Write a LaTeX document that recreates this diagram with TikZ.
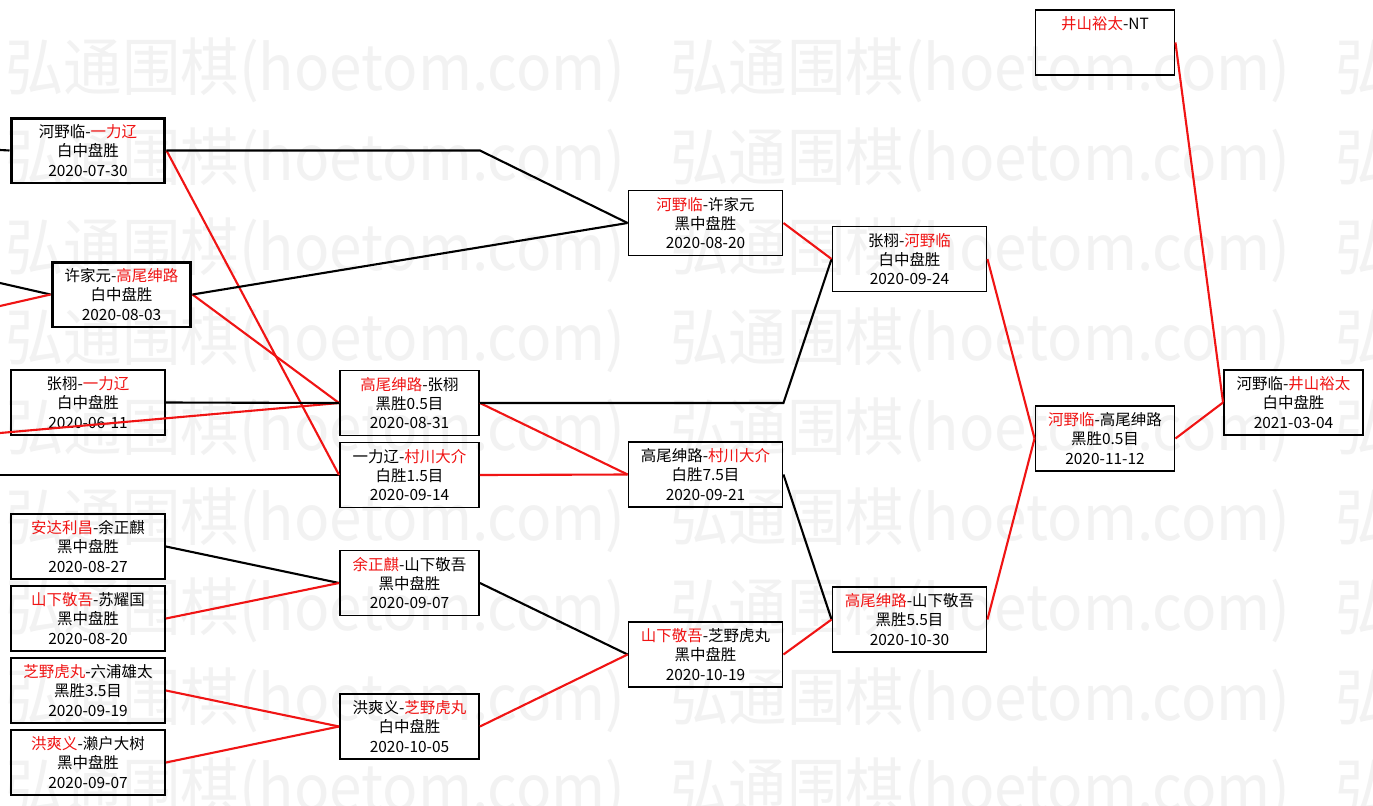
\documentclass[tikz,border=0pt]{standalone}
\usepackage{fontspec}
\usepackage{graphicx}
\newfontfamily\cjk{Noto Sans CJK SC}
\definecolor{red}{HTML}{F01414}
\definecolor{ink}{HTML}{000000}
\definecolor{wm}{HTML}{F2F2F2}
\newcommand\winr[1]{\textcolor{red}{#1}}

\begin{document}
\begin{tikzpicture}[x=0.02cm,y=-0.02cm,
game/.style={draw=ink,line width=1.1pt,minimum width=3.08cm,minimum height=1.3cm,inner sep=0pt,align=center,font=\cjk\fontsize{8.8}{11}\selectfont},
narrow/.style={minimum width=2.78cm},
bold/.style={line width=1.7pt},
loss/.style={draw=ink,line width=1.2pt},
win/.style={draw=red,line width=1.2pt},
wmtext/.style={text=wm,inner sep=0pt,anchor=west,font=\cjk\fontsize{35.7}{40}\selectfont}]
 \fill[white] (0,0) rectangle (1373,805);
 \useasboundingbox (0,0) rectangle (1373,805);
 % watermark
 \begin{scope}
 \clip (0,0) rectangle (1373,805);
 \foreach \r in {0,...,8}
  \foreach \c in {0,1,2}
   \node[wmtext] (wm-\r-\c) at (5+665*\c,70+90*\r) {\resizebox{12.4cm}{\height}{弘通围棋(hoetom.com)}};
 \end{scope}
 % first column
 \node[game,bold] (a1) at (88,150.5) {河野临-\winr{一力辽}\\白中盘胜\\2020-07-30};
 \node[game,narrow,bold] (a2) at (121.5,294.5) {许家元-\winr{高尾绅路}\\白中盘胜\\2020-08-03};
 \node[game] (a3) at (88,402.5) {张栩-\winr{一力辽}\\白中盘胜\\2020-06-11};
 \node[game] (a4) at (88,546.5) {\winr{安达利昌}-余正麒\\黑中盘胜\\2020-08-27};
 \node[game] (a5) at (88,618.5) {\winr{山下敬吾}-苏耀国\\黑中盘胜\\2020-08-20};
 \node[game] (a6) at (88,690.5) {\winr{芝野虎丸}-六浦雄太\\黑胜3.5目\\2020-09-19};
 \node[game] (a7) at (88,762.5) {\winr{洪爽义}-濑户大树\\黑中盘胜\\2020-09-07};
 % second column
 \node[game,narrow] (b1) at (409.5,403) {\winr{高尾绅路}-张栩\\黑胜0.5目\\2020-08-31};
 \node[game,narrow] (b2) at (409.5,475) {一力辽-\winr{村川大介}\\白胜1.5目\\2020-09-14};
 \node[game,narrow] (b3) at (409.5,583) {\winr{余正麒}-山下敬吾\\黑中盘胜\\2020-09-07};
 \node[game,narrow] (b4) at (409.5,726.5) {洪爽义-\winr{芝野虎丸}\\白中盘胜\\2020-10-05};
 % third column
 \node[game] (c1) at (705.5,223) {\winr{河野临}-许家元\\黑中盘胜\\2020-08-20};
 \node[game] (c2) at (705.5,474.5) {高尾绅路-\winr{村川大介}\\白胜7.5目\\2020-09-21};
 \node[game] (c3) at (705.5,654.5) {\winr{山下敬吾}-芝野虎丸\\黑中盘胜\\2020-10-19};
 % fourth column
 \node[game] (d1) at (909.5,259) {张栩-\winr{河野临}\\白中盘胜\\2020-09-24};
 \node[game] (d2) at (909.5,619.5) {\winr{高尾绅路}-山下敬吾\\黑胜5.5目\\2020-10-30};
 % last rounds
 \node[game,narrow] (seed) at (1105,42.5) {\winr{井山裕太}-NT\\\mbox{}\\\mbox{}};
 \node[game,narrow] (semi) at (1105,438.5) {\winr{河野临}-高尾绅路\\黑胜0.5目\\2020-11-12};
 \node[game,narrow] (final) at (1293.5,402.5) {河野临-\winr{井山裕太}\\白中盘胜\\2021-03-04};
 % lines from off the page
 \coordinate (in-a1) at (0,150);
 \coordinate (in-a2k) at (0,283);
 \coordinate (in-a2r) at (0,306);
 \coordinate (in-b1) at (0,433);
 \coordinate (in-b2) at (0,475);
 \draw[loss] (in-a1) -- (a1.west);
 \draw[loss] (in-a2k) -- (a2.west);
 \draw[win] (in-a2r) -- (a2.west);
 \draw[win] (in-b1) -- (b1.west);
 \draw[loss] (in-b2) -- (b2.west);
 % into second column
 \draw[win] (a1.east) -- (b2.west);
 \draw[win] (a2.east) -- (b1.west);
 \draw[loss] (a3.east) -- (b1.west);
 \draw[loss] (a4.east) -- (b3.west);
 \draw[win] (a5.east) -- (b3.west);
 \draw[win] (a6.east) -- (b4.west);
 \draw[win] (a7.east) -- (b4.west);
 % into third column
 \draw[loss] (a1.east) -- (a1.east -| b1.east) -- (c1.west);
 \draw[loss] (a2.east) -- (c1.west);
 \draw[win] (b1.east) -- (c2.west);
 \draw[win] (b2.east) -- (c2.west);
 \draw[loss] (b3.east) -- (c3.west);
 \draw[win] (b4.east) -- (c3.west);
 % into fourth column
 \draw[loss] (b1.east) -- (b1.east -| c1.east) -- (d1.west);
 \draw[win] (c1.east) -- (d1.west);
 \draw[loss] (c2.east) -- (d2.west);
 \draw[win] (c3.east) -- (d2.west);
 % last rounds
 \draw[win] (d1.east) -- (semi.west);
 \draw[win] (d2.east) -- (semi.west);
 \draw[win] (semi.east) -- (final.west);
 \draw[win] (seed.east) -- (final.west);
\end{tikzpicture}
\end{document}
